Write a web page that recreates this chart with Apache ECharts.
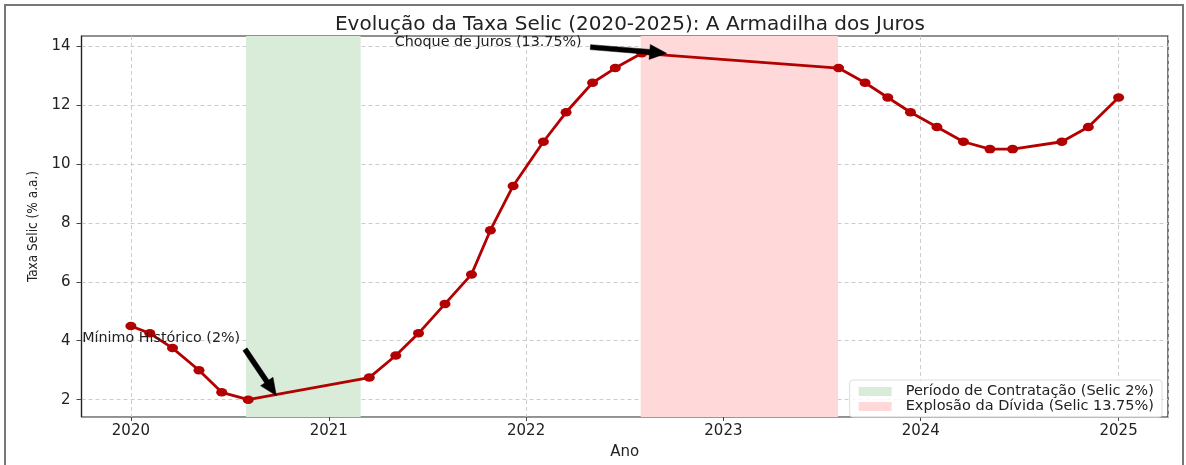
<!DOCTYPE html>
<html>
<head>
<meta charset="utf-8">
<script src="https://cdn.jsdelivr.net/npm/echarts@6/dist/echarts.min.js"></script>
<style>
    html, body { margin: 0; padding: 0; background: #fff; }
    #chart { width: 1186px; height: 465px; }
</style>
</head>
<body>
<div id="chart"></div>
<script>
// Selic decisions (meeting dates) and rate in % a.a.
const dates = [
    "2020-01-01", "2020-02-05", "2020-03-18", "2020-05-06", "2020-06-17", "2020-08-05",
    "2021-03-17", "2021-05-05", "2021-06-16", "2021-08-04", "2021-09-22", "2021-10-27", "2021-12-08",
    "2022-02-02", "2022-03-16", "2022-05-04", "2022-06-15", "2022-08-03",
    "2023-08-02", "2023-09-20", "2023-11-01", "2023-12-13",
    "2024-01-31", "2024-03-20", "2024-05-08", "2024-06-19", "2024-09-18", "2024-11-06",
    "2025-01-01"
];
const selic = [
    4.5, 4.25, 3.75, 3.0, 2.25, 2.0,
    2.75, 3.5, 4.25, 5.25, 6.25, 7.75, 9.25,
    10.75, 11.75, 12.75, 13.25, 13.75,
    13.25, 12.75, 12.25, 11.75,
    11.25, 10.75, 10.5, 10.5, 10.75, 11.25,
    12.25
];
const yTicks = [2, 4, 6, 8, 10, 12, 14];

const bandNames = ["Período de Contratação (Selic 2%)", "Explosão da Dívida (Selic 13.75%)"];
const bandRanges = [["2020-08-01", "2021-03-01"], ["2022-08-01", "2023-08-01"]];
const bandColors = ["rgb(217,236,217)", "rgb(255,217,217)"];

// annotations: text anchor, arrow tail, arrow head (data coords)
const noteTexts = ["Choque de Juros (13.75%)", "Mínimo Histórico (2%)"];
const noteTextAt = [["2021-05-03", 14.03], ["2019-10-03", 4.0]];
const noteTail = [["2022-04-30", 13.96], ["2020-07-30", 3.71]];
const noteHead = [["2022-09-18", 13.75], ["2020-09-26", 2.14]];

const DAY = 86400000;
const xMin = new Date(dates[0]).getTime() - 91.35 * DAY;
const xMax = new Date(dates[dates.length - 1]).getTime() + 91.35 * DAY;
const yMin = 2 - 0.05 * 11.75;
const yMax = 13.75 + 0.05 * 11.75;
const FONT = "DejaVu Sans";

const chart = echarts.init(document.getElementById("chart"));

const series = [
    {
        name: "Selic",
        type: "line",
        data: dates.map((d, i) => [d, selic[i]]),
        z: 5,
        lineStyle: { color: "#b30000", width: 2.8 },
        itemStyle: { color: "#b30000" },
        symbol: "circle",
        symbolSize: [11, 8.5],
        showSymbol: true,
        emphasis: { disabled: true }
    }
];
bandNames.forEach((name, i) => {
    series.push({
        name: name,
        type: "line",
        data: [],
        z: 1,
        itemStyle: { color: bandColors[i] },
        lineStyle: { color: bandColors[i] },
        markArea: {
            silent: true,
            itemStyle: { color: bandColors[i] },
            data: [[{ xAxis: bandRanges[i][0] }, { xAxis: bandRanges[i][1] }]]
        }
    });
});

chart.setOption({
    animation: false,
    title: {
        text: "Evolução da Taxa Selic (2020-2025): A Armadilha dos Juros",
        left: 625,
        textAlign: "center",
        top: 10,
        textStyle: { fontFamily: FONT, fontSize: 20, fontWeight: "normal", color: "#222" }
    },
    grid: {
        left: 81.5, right: 18, top: 36, bottom: 43.3,
        show: true, borderColor: "#222", borderWidth: 1.2, backgroundColor: "transparent"
    },
    legend: {
        data: bandNames.map((n) => ({ name: n, icon: "rect" })),
        orient: "vertical",
        right: 24,
        bottom: 48,
        itemWidth: 33,
        itemHeight: 9,
        itemGap: 0,
        padding: [4, 8, 3, 9],
        backgroundColor: "rgba(255,255,255,0.85)",
        borderColor: "#ddd",
        borderWidth: 1,
        borderRadius: 3,
        selectedMode: false,
        textStyle: { fontFamily: FONT, fontSize: 14.5, lineHeight: 14.5, color: "#222", padding: [0, 0, 0, 9] }
    },
    xAxis: {
        type: "time",
        min: xMin,
        max: xMax,
        name: "Ano",
        nameLocation: "middle",
        nameGap: 28,
        nameTextStyle: { fontFamily: FONT, fontSize: 15, color: "#222" },
        splitNumber: 6,
        minInterval: 365 * DAY,
        axisLine: { lineStyle: { color: "#999", width: 1.2 } },
        axisTick: { show: true, length: 4, lineStyle: { color: "#444" } },
        axisLabel: { formatter: "{yyyy}", fontFamily: FONT, fontSize: 15, color: "#222", margin: 7 },
        splitLine: { show: true, lineStyle: { color: "#ccc", type: [4, 3] } },
        minorTick: { show: false }
    },
    yAxis: {
        type: "value",
        min: yMin,
        max: yMax,
        splitNumber: 6,
        name: "Taxa Selic (% a.a.)",
        nameLocation: "middle",
        nameGap: 40,
        nameTextStyle: { fontFamily: "'DejaVu Sans Condensed', 'Liberation Sans', sans-serif", fontSize: 13.5, color: "#222" },
        axisLine: { show: true, lineStyle: { color: "#222", width: 1.2 } },
        axisTick: { show: true, length: 5, lineStyle: { color: "#444" }, customValues: yTicks },
        axisLabel: {
            fontFamily: FONT, fontSize: 15, color: "#222", margin: 11,
            customValues: yTicks
        },
        splitLine: { show: true, lineStyle: { color: "#ccc", type: [4, 3] } }
    },
    series: series
});

function arrowPoints(tail, head) {
    const dx = head[0] - tail[0];
    const dy = head[1] - tail[1];
    const len = Math.sqrt(dx * dx + dy * dy);
    const ux = dx / len, uy = dy / len;
    const px = -uy, py = ux;
    const shaftW = 2.5, headW = 7.5, headL = 17;
    const bx = head[0] - ux * headL, by = head[1] - uy * headL;
    return [
        [tail[0] + px * shaftW, tail[1] + py * shaftW],
        [bx + px * shaftW, by + py * shaftW],
        [bx + px * headW, by + py * headW],
        [head[0], head[1]],
        [bx - px * headW, by - py * headW],
        [bx - px * shaftW, by - py * shaftW],
        [tail[0] - px * shaftW, tail[1] - py * shaftW]
    ];
}

function drawNotes() {
    const toPx = (p) => chart.convertToPixel({ xAxisIndex: 0, yAxisIndex: 0 }, [new Date(p[0]).getTime(), p[1]]);
    const graphic = [
        {
            type: "rect",
            shape: { x: 5, y: 5, width: 1178, height: 480 },
            style: { fill: "none", stroke: "#777", lineWidth: 2 },
            silent: true
        }
    ];
    for (let i = 0; i < noteTexts.length; i++) {
        const t = toPx(noteTextAt[i]);
        graphic.push({
            type: "text",
            x: t[0],
            y: t[1] + 4.5,
            z: 20,
            style: {
                text: noteTexts[i],
                fontFamily: FONT, fontSize: 14.3, fill: "#222",
                textAlign: "left", textVerticalAlign: "bottom"
            }
        });
        graphic.push({
            type: "polygon",
            z: 20,
            shape: { points: arrowPoints(toPx(noteTail[i]), toPx(noteHead[i])) },
            style: { fill: "#000", stroke: "#000", lineWidth: 0.5 }
        });
    }
    chart.setOption({ graphic: graphic });
}

drawNotes();
</script>
</body>
</html>
